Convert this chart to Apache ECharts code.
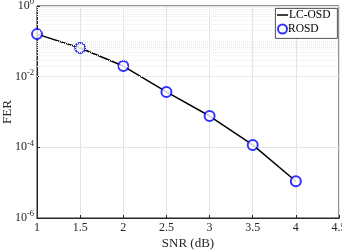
<!DOCTYPE html>
<html><head><meta charset="utf-8">
<script src="https://cdn.jsdelivr.net/npm/echarts@6/dist/echarts.min.js"></script>
<style>html,body{margin:0;padding:0;background:#fff}#c{width:342px;height:250px}</style>
</head><body><div id="c"></div>
<script>
var snr = [1, 1.5, 2, 2.5, 3, 3.5, 4];
var lcosd = [0.16, 0.065, 0.020, 0.0037, 7.7e-4, 1.17e-4, 1.1e-5];
var rosd = [0.16, 0.065, 0.020, 0.0037, 7.7e-4, 1.17e-4, 1.1e-5];
var xTicks = [1, 1.5, 2, 2.5, 3, 3.5, 4, 4.5];
var yExps = [-6, -4, -2, 0];

var minorLines = [];
for (var e = -6; e < 0; e++) for (var m = 2; m <= 9; m++) minorLines.push({yAxis: m * Math.pow(10, e)});
for (var e2 = -5; e2 < 0; e2 += 2) minorLines.push({yAxis: Math.pow(10, e2)});

var chart = echarts.init(document.getElementById('c'));
var font = 'Liberation Serif';
var legText = {fontFamily: font, fontSize: 11.5, color: '#000', padding: [0, 0, 0, -4]};
chart.setOption({
  animation: false,
  grid: {left: 37, right: 3, top: 6, bottom: 32, outerBoundsMode: 'none', containLabel: false,
    show: true, borderColor: '#262626', borderWidth: 1, backgroundColor: 'transparent'},
  graphic: [{type: 'rect', left: 275, top: 8, z: 100,
    shape: {width: 62, height: 30},
    style: {fill: '#fff', stroke: '#262626', lineWidth: 0.8}}],
  legend: [
    {left: 277, top: 9, z: 101, itemWidth: 11, itemHeight: 1.5, padding: 0,
      textStyle: legText,
      data: [{name: 'LC-OSD', icon: 'rect', itemStyle: {color: '#000', borderWidth: 0}}]},
    {left: 277, top: 23, z: 101, itemWidth: 9, itemHeight: 9, padding: 0,
      textStyle: legText,
      data: [{name: 'ROSD'}]}
  ],
  xAxis: {
    type: 'value', min: 1, max: 4.5, interval: 0.5,
    name: 'SNR (dB)', nameLocation: 'middle', nameGap: 19, nameMoveOverlap: false,
    nameTextStyle: {fontFamily: font, fontSize: 13, color: '#262626'},
    axisLine: {lineStyle: {color: '#262626'}},
    axisTick: {inside: true, length: 3, lineStyle: {color: '#262626'}},
    axisLabel: {fontFamily: font, fontSize: 12, color: '#262626', margin: 4,
      formatter: function (v) { return String(v); }},
    splitLine: {show: true, lineStyle: {color: '#e4e4e4', width: 1}}
  },
  yAxis: {
    type: 'log', min: 1e-6, max: 1, logBase: 10, interval: 2,
    name: 'FER', nameLocation: 'middle', nameGap: 23, nameRotate: 90, nameMoveOverlap: false,
    nameTextStyle: {fontFamily: font, fontSize: 13, color: '#262626'},
    axisLine: {lineStyle: {color: '#262626'}},
    axisTick: {inside: true, length: 3, lineStyle: {color: '#262626'}},
    axisLabel: {
      fontFamily: font, fontSize: 12, color: '#262626', margin: 3,
      formatter: function (v) { var e = Math.round(Math.log10(v)); return '10{s|' + e + '}'; },
      rich: {s: {fontFamily: font, fontSize: 8.5, color: '#262626', verticalAlign: 'top', padding: [0, 0, 8, 0]}}
    },
    splitLine: {show: true, lineStyle: {color: '#e4e4e4', width: 1}}
  },
  series: [
    {
      name: 'minor', type: 'line', data: [], silent: true,
      markLine: {silent: true, symbol: 'none', label: {show: false},
        lineStyle: {color: '#ececec', type: [1, 1], width: 1}, data: minorLines}
    },
    {
      name: 'LC-OSD', type: 'line', symbol: 'none', z: 3,
      lineStyle: {color: '#000', width: 1.5}, itemStyle: {color: '#000'},
      data: snr.map(function (x, i) { return [x, lcosd[i]]; })
    },
    {
      name: 'ROSD', type: 'scatter', symbol: 'emptyCircle', symbolSize: 10, z: 4,
      itemStyle: {color: '#0000ff', borderColor: '#0000ff', borderWidth: 1.6},
      data: snr.map(function (x, i) { return [x, rosd[i]]; })
    }
  ]
});
</script></body></html>
